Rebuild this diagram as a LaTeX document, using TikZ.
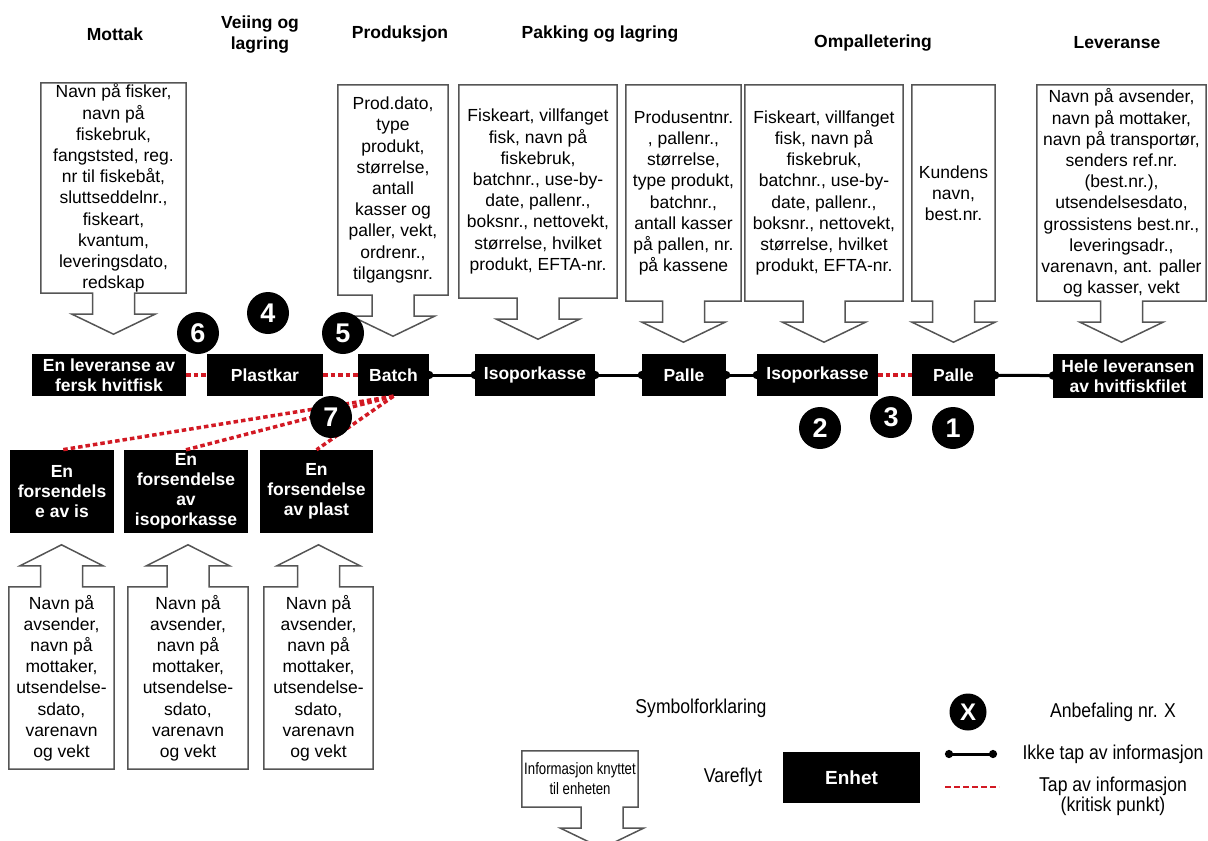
\documentclass[tikz,border=0pt]{standalone}
\usepackage{fontspec}
\setmainfont{Liberation Sans}
\newfontfamily\legendfont[FakeStretch=0.88]{Liberation Sans}
\newfontfamily\narrowfont[FakeStretch=0.8]{Liberation Sans}
\usetikzlibrary{calc,arrows.meta}

\definecolor{lossred}{RGB}{210,25,35}
\definecolor{edgegray}{RGB}{85,85,85}

\tikzset{
	header/.style={align=center, font={\bfseries\fontsize{17.5pt}{21pt}\selectfont}},
	infobox/.style={inner sep=0pt, align=center, font={\fontsize{17.5pt}{21.2pt}\selectfont}},
	infoedge/.style={draw=edgegray, line width=1.5pt},
	unit/.style={fill=black, text=white, inner sep=0pt, minimum height=42pt, align=center,
		font={\bfseries\fontsize{17.5pt}{20pt}\selectfont}},
	badge/.style={circle, fill=black, text=white, inner sep=0pt, minimum size=42pt,
		font={\bfseries\fontsize{27pt}{27pt}\selectfont}},
	infoline/.style={line width=3pt, {Circle[length=8pt]}-{Circle[length=8pt]},
		shorten <=-4pt, shorten >=-4pt},
	lossline/.style={draw=lossred, line width=3.5pt, dash pattern=on 4.5pt off 3pt},
	legendtext/.style={align=center, font={\legendfont\fontsize{20pt}{20pt}\selectfont}}
}

% box with a wide arrow below it
\newcommand\downcallout[2][0]{%
	\draw[infoedge] (#2.south west) -- (#2.north west) -- (#2.north east) -- (#2.south east)
		-- ($(#2.south)+(#1+21,0)$) -- ++(0,21) -- ++(20.5,0) -- ($(#2.south)+(#1,41)$)
		-- ($(#2.south)+(#1-41.5,21)$) -- ++(20.5,0) -- ($(#2.south)+(#1-21,0)$) -- cycle;}
% box with a wide arrow above it
\newcommand\upcallout[1]{%
	\draw[infoedge] (#1.north west) -- (#1.south west) -- (#1.south east) -- (#1.north east)
		-- ($(#1.north)+(21,0)$) -- ++(0,-21) -- ++(20.5,0) -- ($(#1.north)+(0,-42)$)
		-- ($(#1.north)+(-41.5,-21)$) -- ++(20.5,0) -- ($(#1.north)+(-21,0)$) -- cycle;}

\begin{document}
\begin{tikzpicture}[x=1pt,y=-1pt]
	\useasboundingbox (0,0) rectangle (1208,841);

	% Draw headers
	\node[header] (hmottak) at (115,34) {Mottak};
	\node[header] (hveiing) at (260,35) {Veiing og\\lagring};
	\node[header] (hprod) at (400,34) {Produksjon};
	\node[header] (hpakk) at (600,34) {Pakking og lagring};
	\node[header] (homp) at (873,43) {Ompalletering};
	\node[header] (hlev) at (1117,43) {Leveranse};

	% Draw information boxes
	\node[infobox, minimum width=145pt, minimum height=210pt] (mottakinfo) at (113.5,188)
		{Navn på fisker,\\navn på\\fiskebruk,\\fangststed, reg.\\nr til fiskebåt,\\sluttseddelnr.,\\fiskeart,\\kvantum,\\leveringsdato,\\redskap};
	\node[infobox, minimum width=110pt, minimum height=210pt] (prodinfo) at (393,190)
		{Prod.dato,\\type\\produkt,\\størrelse,\\antall\\kasser og\\paller, vekt,\\ordrenr.,\\tilgangsnr.};
	\node[infobox, minimum width=158pt, minimum height=213pt] (isoporinfo) at (538,191.5)
		{Fiskeart, villfanget\\fisk, navn på\\fiskebruk,\\batchnr., use-by-\\date, pallenr.,\\boksnr., nettovekt,\\størrelse, hvilket\\produkt, EFTA-nr.};
	\node[infobox, minimum width=115pt, minimum height=216pt] (palleinfo) at (683.5,193)
		{Produsentnr.\\, pallenr.,\\størrelse,\\type produkt,\\batchnr.,\\antall kasser\\på pallen, nr.\\på kassene};
	\node[infobox, minimum width=158pt, minimum height=216pt] (isoporominfo) at (824,193)
		{Fiskeart, villfanget\\fisk, navn på\\fiskebruk,\\batchnr., use-by-\\date, pallenr.,\\boksnr., nettovekt,\\størrelse, hvilket\\produkt, EFTA-nr.};
	\node[infobox, minimum width=83pt, minimum height=216pt] (kundeinfo) at (953.5,193)
		{Kundens\\navn,\\best.nr.};
	\node[infobox, minimum width=169pt, minimum height=216pt] (leveranseinfo) at (1121.5,193)
		{Navn på avsender,\\navn på mottaker,\\navn på transportør,\\senders ref.nr.\\(best.nr.),\\utsendelsesdato,\\grossistens best.nr.,\\leveringsadr.,\\varenavn, ant. paller\\og kasser, vekt};
	\foreach \n in {mottakinfo,prodinfo,isoporinfo,palleinfo,isoporominfo,kundeinfo,leveranseinfo}
		{\downcallout{\n}}

	% Draw units
	\node[unit, minimum width=154pt] (leveranse) at (109,375) {En leveranse av\\fersk hvitfisk};
	\node[unit, minimum width=116pt] (plastkar) at (265,375) {Plastkar};
	\node[unit, minimum width=71pt] (batch) at (393.5,375) {Batch};
	\node[unit, minimum width=120pt] (isopor) at (535,375) {Isoporkasse};
	\node[unit, minimum width=84pt] (palle) at (684,375) {Palle};
	\node[unit, minimum width=121pt] (isoporom) at (817.5,375) {Isoporkasse};
	\node[unit, minimum width=83pt] (palleom) at (953.5,375) {Palle};
	\node[unit, minimum width=150pt, minimum height=44pt] (hele) at (1128,376) {Hele leveransen\\av hvitfiskfilet};

	\node[unit, minimum width=104pt, minimum height=83pt] (isforsendelse) at (62,491.5) {En\\forsendels\\e av is};
	\node[unit, minimum width=124pt, minimum height=83pt] (isoporforsendelse) at (186,491.5) {En\\forsendelse\\av\\isoporkasse};
	\node[unit, minimum width=113pt, minimum height=83pt] (plastforsendelse) at (316.5,491.5) {En\\forsendelse\\av plast};

	% Draw information for the deliveries
	\node[infobox, minimum width=105pt, minimum height=182pt] (isinfo) at (61.5,678)
		{Navn på\\avsender,\\navn på\\mottaker,\\utsendelse-\\sdato,\\varenavn\\og vekt};
	\node[infobox, minimum width=120pt, minimum height=182pt] (isoporfinfo) at (188,678)
		{Navn på\\avsender,\\navn på\\mottaker,\\utsendelse-\\sdato,\\varenavn\\og vekt};
	\node[infobox, minimum width=109pt, minimum height=182pt] (plastinfo) at (318.5,678)
		{Navn på\\avsender,\\navn på\\mottaker,\\utsendelse-\\sdato,\\varenavn\\og vekt};
	\foreach \n in {isinfo,isoporfinfo,plastinfo}
		{\upcallout{\n}}

	% Draw connectors
	\draw[infoline] (batch) -- (isopor);
	\draw[infoline] (isopor) -- (palle);
	\draw[infoline] (palle) -- (isoporom);
	\draw[infoline] (palleom) -- (hele);
	\draw[lossline] (leveranse) -- (plastkar);
	\draw[lossline] (plastkar) -- (batch);
	\draw[lossline] (isoporom) -- (palleom);
	\draw[lossline] (batch.south) -- (isforsendelse.north);
	\draw[lossline] (batch.south) -- (isoporforsendelse.north);
	\draw[lossline] (batch.south) -- (plastforsendelse.north);

	% Draw recommendations
	\node[badge] (anb1) at (953,428) {1};
	\node[badge] (anb2) at (820,428) {2};
	\node[badge] (anb3) at (891,417) {3};
	\node[badge] (anb4) at (268,313) {4};
	\node[badge] (anb5) at (343,333) {5};
	\node[badge] (anb6) at (198,333) {6};
	\node[badge] (anb7) at (331,417) {7};

	% Draw legend
	\node[legendtext] (symbtitle) at (701,708) {Symbolforklaring};
	\node[infobox, minimum width=116pt, minimum height=56pt, font={\narrowfont\fontsize{16.5pt}{20pt}\selectfont}]
		(enhetinfo) at (580,779) {Informasjon knyttet\\til enheten};
	\downcallout[22]{enhetinfo}
	\node[legendtext] (vareflyt) at (733,777) {Vareflyt};
	\node[unit, minimum width=137pt, minimum height=51pt, font={\bfseries\fontsize{19pt}{20pt}\selectfont}]
		(enhet) at (851.5,777.5) {Enhet};
	\node[badge, minimum size=37pt, font={\bfseries\fontsize{24pt}{24pt}\selectfont}] (anbx) at (968,712) {X};
	\node[legendtext] (anbtext) at (1113,712) {Anbefaling nr. X};
	\coordinate (solida) at (949,754);
	\coordinate (solidb) at (993,754);
	\draw[infoline] (solida) -- (solidb);
	\node[legendtext] (solidtext) at (1113,754) {Ikke tap av informasjon};
	\coordinate (lossa) at (945,787);
	\coordinate (lossb) at (999,787);
	\draw[lossline, line width=2.5pt, dash pattern=on 6pt off 3pt] (lossa) -- (lossb);
	\node[legendtext] (losstext) at (1113,796) {Tap av informasjon\\(kritisk punkt)};
\end{tikzpicture}
\end{document}
